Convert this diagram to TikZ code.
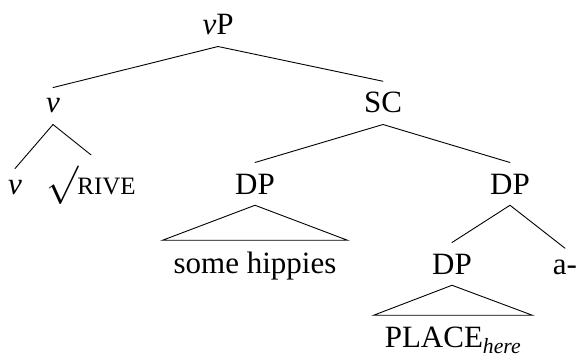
\documentclass[tikz,border=0pt]{standalone}
\usepackage{graphicx}
\usepackage{fontspec}
\setmainfont{Liberation Serif}
\begin{document}
\begin{tikzpicture}[x=1pt,y=-1pt,
  lab/.style={anchor=base,inner sep=11pt,font=\fontsize{31}{36}\selectfont},
  edge/.style={line width=0.9pt,line cap=round}]
\useasboundingbox (0,0) rectangle (580,358);
\node[lab] (vP) at (218,35) {{\itshape ν}P};
\node[lab] (v1) at (53,113) {\itshape ν};
\node[lab] (SC) at (383,113) {SC};
\node[lab] (vleaf) at (15,194) {\itshape ν};
\node[lab] (rive) at (91,194) {\raisebox{-1pt}{\scalebox{1.55}{\fontsize{25}{25}\selectfont$\surd$}}\kern-1pt{\fontsize{25}{25}\selectfont RIVE}};
\node[lab] (DPl) at (255,194) {DP};
\node[lab] (DPr) at (510,194) {DP};
\node[lab] (hip) at (255,273) {some hippies};
\node[lab] (DPll) at (452,274) {DP};
\node[lab] (a) at (565,274) {a-};
\node[lab] (place) at (453,347) {PLACE\textsubscript{\itshape here}};
\draw[edge] (vP.south) -- (v1.north);
\draw[edge] (vP.south) -- (SC.north);
\draw[edge] (v1.south) -- (vleaf.north);
\draw[edge] (v1.south) -- (rive.north);
\draw[edge] (SC.south) -- (DPl.north);
\draw[edge] (SC.south) -- (DPr.north);
\draw[edge] (DPl.south) -- (hip.north west) -- (hip.north east) -- cycle;
\draw[edge] (DPr.south) -- (DPll.north);
\draw[edge] (DPr.south) -- (a.north);
\draw[edge] (DPll.south) -- (place.north west) -- (place.north east) -- cycle;
\end{tikzpicture}
\end{document}
